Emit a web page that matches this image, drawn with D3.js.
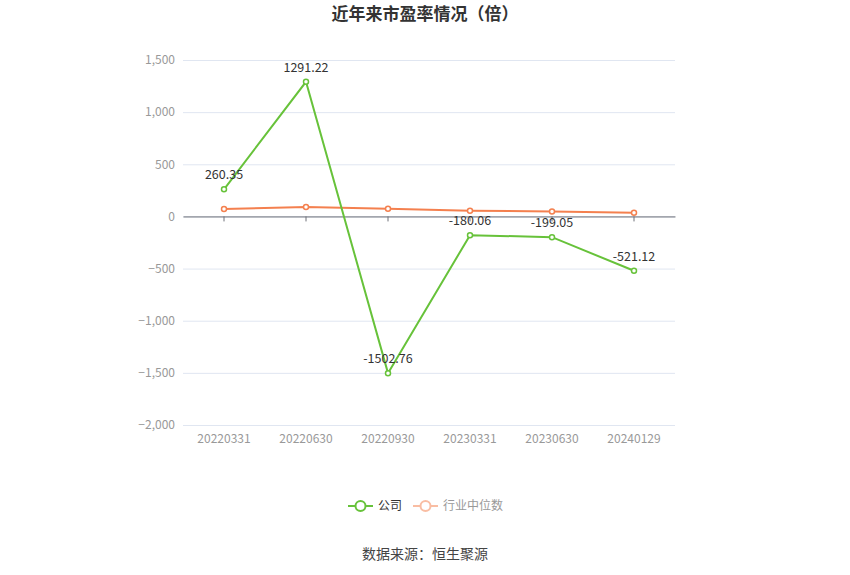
<!DOCTYPE html>
<html>
<head>
<meta charset="utf-8">
<script src="https://cdn.jsdelivr.net/npm/d3@7.9.0/dist/d3.min.js"></script>
<style>
  body { margin: 0; background: #fff; }
  text { font-family: "Microsoft YaHei", "Noto Sans CJK SC", sans-serif; }
</style>
</head>
<body>
<svg id="chart" width="850" height="575"></svg>
<script>
const categories   = ['20220331', '20220630', '20220930', '20230331', '20230630', '20240129'];
const companyPE    = [260.35, 1291.22, -1502.76, -180.06, -199.05, -521.12];
const industryPE   = [71, 90, 74, 55, 48, 35];
const yTicks       = [-2000, -1500, -1000, -500, 0, 500, 1000, 1500];

const green  = '#67c23a';
const orange = '#f4804f';

const svg = d3.select('#chart');

const x = d3.scaleBand().domain(categories).range([183, 675]);
const y = d3.scaleLinear().domain([-2000, 1500]).range([425, 60]);
const cx = d => x(d) + x.bandwidth() / 2;

// title
svg.append('text')
   .attr('x', 425).attr('y', 20)
   .attr('text-anchor', 'middle')
   .attr('font-size', 17).attr('font-weight', 'bold')
   .attr('fill', '#333')
   .text('近年来市盈率情况（倍）');

// grid + y labels
const yAxis = d3.axisLeft(y).tickValues(yTicks).tickSize(-(675 - 183))
                .tickFormat(d3.format(','));
svg.append('g')
   .attr('transform', 'translate(183,0)')
   .call(yAxis)
   .call(g => g.select('.domain').remove())
   .call(g => g.selectAll('line').attr('stroke', '#e0e6f1'))
   .call(g => g.selectAll('text').attr('fill', '#999').attr('font-size', 12).attr('x', -8));

// zero line and ticks
const xAxis = d3.axisBottom(x).tickSize(5).tickSizeOuter(0).tickFormat(() => '');
svg.append('g')
   .attr('transform', `translate(0,${y(0)})`)
   .call(xAxis)
   .call(g => g.select('.domain').attr('stroke', '#6e7079'))
   .call(g => g.selectAll('line').attr('stroke', '#6e7079'));

// category labels at bottom
svg.append('g').selectAll('text')
   .data(categories).join('text')
   .attr('x', d => cx(d)).attr('y', 443)
   .attr('text-anchor', 'middle')
   .attr('font-size', 12).attr('fill', '#999')
   .text(d => d);

const line = d3.line().x((d, i) => cx(categories[i])).y(d => y(d));

function drawSeries(values, color) {
  svg.append('path')
     .datum(values)
     .attr('d', line)
     .attr('fill', 'none')
     .attr('stroke', color)
     .attr('stroke-width', 2);
  svg.append('g').selectAll('circle')
     .data(values).join('circle')
     .attr('cx', (d, i) => cx(categories[i]))
     .attr('cy', d => y(d))
     .attr('r', 2.5)
     .attr('fill', '#fff')
     .attr('stroke', color)
     .attr('stroke-width', 1.5);
}

drawSeries(industryPE, orange);
drawSeries(companyPE, green);

// value labels for company
svg.append('g').selectAll('text')
   .data(companyPE).join('text')
   .attr('x', (d, i) => cx(categories[i]))
   .attr('y', d => y(d) - 10)
   .attr('text-anchor', 'middle')
   .attr('font-size', 12.5).attr('fill', '#333')
   .text(d => d.toFixed(2));

// legend
const legend = svg.append('g').attr('transform', 'translate(0,506)');
const items = [
  { label: '公司', color: green, text: '#333', x: 348 },
  { label: '行业中位数', color: '#f9bda3', text: '#999', x: 413 }
];
items.forEach(it => {
  const g = legend.append('g').attr('transform', `translate(${it.x},0)`);
  g.append('line').attr('x1', 0).attr('x2', 25).attr('y1', 0).attr('y2', 0)
   .attr('stroke', it.color).attr('stroke-width', 2);
  g.append('circle').attr('cx', 12.5).attr('cy', 0).attr('r', 5)
   .attr('fill', '#fff').attr('stroke', it.color).attr('stroke-width', 2);
  g.append('text').attr('x', 30).attr('y', 4)
   .attr('font-size', 12).attr('fill', it.text).text(it.label);
});

// source
svg.append('text')
   .attr('x', 425).attr('y', 559)
   .attr('text-anchor', 'middle')
   .attr('font-size', 14).attr('fill', '#444')
   .text('数据来源：恒生聚源');
</script>
</body>
</html>
